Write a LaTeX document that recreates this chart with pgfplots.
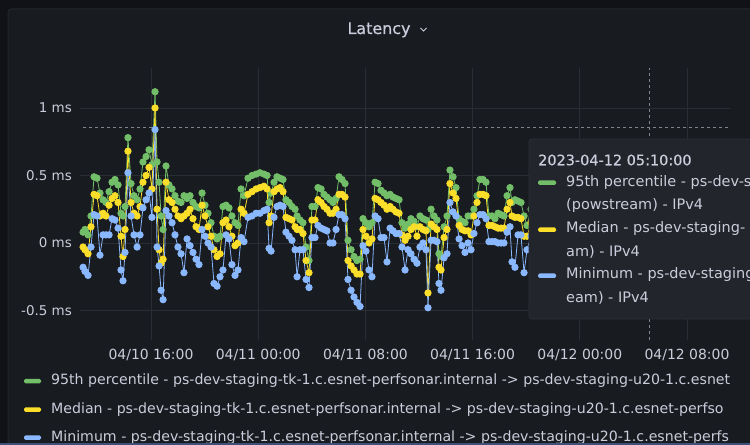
\documentclass[border=0pt]{standalone}
\usepackage{pgfplots}
\pgfplotsset{compat=1.18}
\usepackage{pgfplotstable}
\usepackage{fontspec}
\setmainfont{DejaVu Sans}
\newfontfamily\titlefont[FakeBold=0.6]{DejaVu Sans}
\newfontfamily\medfont[FakeBold=0.3]{DejaVu Sans}
\definecolor{bgout}{HTML}{111217}
\definecolor{panel}{HTML}{181B1F}
\definecolor{panelborder}{HTML}{25272C}
\definecolor{gridc}{HTML}{2A2D33}
\definecolor{txt}{HTML}{CCCCDC}
\definecolor{cg}{HTML}{73BF69}
\definecolor{cy}{HTML}{FADE2A}
\definecolor{cb}{HTML}{8AB8FF}
\definecolor{tipbg}{HTML}{22252B}
\definecolor{tipborder}{HTML}{2C2F35}
\definecolor{cross}{HTML}{80848C}
\definecolor{bline}{HTML}{3C5078}
\newcommand\ff[1]{\fontsize{#1}{#1}\selectfont}

\pgfplotstableread{
h g m b
10.93 0.08 -0.03 -0.18
11.07 0.10 -0.05 -0.21
11.30 0.06 -0.08 -0.24
11.52 0.20 0.12 -0.03
11.75 0.49 0.36 0.21
11.97 0.48 0.35 0.20
12.19 0.37 0.20 -0.09
12.42 0.32 0.22 0.06
12.64 0.30 0.20 0.06
12.87 0.38 0.28 0.06
13.09 0.45 0.33 0.18
13.31 0.47 0.35 0.17
13.54 0.43 0.30 0.11
13.76 0.22 0.05 -0.20
13.91 0.20 -0.10 -0.28
14.06 0.27 0.10 -0.07
14.28 0.78 0.68 0.52
14.51 0.44 0.30 0.20
14.73 0.35 0.22 0.06
14.96 0.32 0.20 -0.03
15.18 0.40 0.27 0.06
15.40 0.60 0.45 0.26
15.63 0.64 0.50 0.32
15.85 0.69 0.56 0.37
16.07 0.58 0.40 0.19
16.30 1.12 1.00 0.84
16.45 0.60 0.25 -0.03
16.60 0.45 -0.05 -0.17
16.75 0.20 -0.15 -0.35
16.90 0.10 -0.12 -0.42
17.12 0.57 0.45 0.24
17.34 0.43 0.32 0.20
17.57 0.40 0.30 0.15
17.79 0.35 0.25 0.06
18.01 0.31 0.20 -0.03
18.24 0.30 0.18 -0.08
18.46 0.35 0.20 -0.22
18.69 0.33 0.22 0.03
18.91 0.35 0.25 -0.02
19.13 0.30 0.18 -0.07
19.36 0.27 0.12 -0.12
19.58 0.26 0.10 -0.16
19.81 0.37 0.28 0.10
20.03 0.28 0.20 0.05
20.25 0.22 0.12 0.00
20.48 0.15 0.05 -0.03
20.70 0.05 -0.05 -0.30
20.93 0.03 -0.10 -0.32
21.15 0.05 -0.08 -0.25
21.37 0.27 0.15 -0.20
21.60 0.28 0.17 0.06
21.82 0.26 0.12 0.03
22.04 0.20 0.05 -0.16
22.27 0.15 -0.02 -0.24
22.49 0.13 0.00 -0.20
22.72 0.40 0.25 0.04
22.94 0.35 0.22 0.01
23.24 0.48 0.36 0.19
23.54 0.50 0.38 0.20
23.84 0.51 0.40 0.22
24.13 0.52 0.41 0.22
24.43 0.51 0.42 0.24
24.66 0.50 0.40 0.25
24.81 0.30 0.15 -0.04
24.96 0.37 0.20 -0.06
25.18 0.45 0.38 0.19
25.40 0.49 0.40 0.27
25.63 0.48 0.41 0.28
25.85 0.47 0.38 0.27
26.07 0.32 0.19 0.08
26.30 0.30 0.18 0.05
26.52 0.27 0.17 0.02
26.75 0.25 0.12 -0.05
26.90 0.20 0.10 -0.25
27.12 0.17 0.10 -0.05
27.34 0.15 0.07 -0.05
27.57 -0.03 -0.13 -0.27
27.79 -0.13 -0.22 -0.33
28.01 0.27 0.17 0.04
28.24 0.27 0.17 0.04
28.46 0.41 0.32 0.13
28.69 0.40 0.30 0.11
28.91 0.36 0.27 0.10
29.13 0.34 0.25 0.09
29.36 0.32 0.22 0.00
29.58 0.30 0.22 0.00
29.81 0.33 0.25 0.10
30.03 0.49 0.36 0.21
30.25 0.47 0.36 0.21
30.48 0.44 0.34 0.18
30.70 0.02 -0.13 -0.27
30.93 -0.05 -0.17 -0.35
31.15 -0.10 -0.20 -0.40
31.37 -0.13 -0.23 -0.44
31.60 -0.12 -0.23 -0.47
31.82 0.18 0.10 -0.02
32.04 0.15 0.05 -0.06
32.27 0.12 0.00 -0.20
32.49 0.15 0.03 -0.25
32.72 0.45 0.33 0.20
32.94 0.44 0.32 0.18
33.16 0.39 0.30 0.04
33.39 0.37 0.28 0.04
33.61 0.35 0.25 -0.14
33.84 0.36 0.27 0.11
34.06 0.34 0.25 0.09
34.28 0.33 0.23 0.07
34.51 0.32 0.22 0.07
34.73 0.15 0.06 -0.03
34.96 0.11 0.02 -0.20
35.18 0.14 0.05 -0.05
35.40 0.18 0.10 -0.08
35.63 0.16 0.12 -0.12
35.85 0.12 0.05 -0.15
36.07 0.20 0.12 -0.03
36.30 0.18 0.10 0.00
36.52 0.17 0.09 -0.05
36.67 0.10 -0.37 -0.48
36.90 0.25 0.14 0.02
37.12 0.20 0.12 0.02
37.34 0.17 0.10 0.01
37.49 -0.08 -0.18 -0.30
37.64 -0.10 -0.20 -0.35
37.87 0.12 0.04 -0.11
38.09 0.20 0.10 -0.08
38.31 0.54 0.44 0.30
38.54 0.49 0.37 0.23
38.76 0.41 0.33 0.20
38.99 0.18 0.13 0.03
39.21 0.16 0.10 -0.02
39.43 0.15 0.09 -0.07
39.66 0.20 0.09 0.00
39.88 0.20 0.06 -0.05
40.10 0.25 0.20 0.07
40.33 0.35 0.30 0.15
40.55 0.47 0.36 0.21
40.78 0.47 0.36 0.21
41.00 0.45 0.35 0.18
41.22 0.20 0.13 0.01
41.45 0.20 0.13 0.01
41.67 0.18 0.12 0.01
41.90 0.22 0.11 0.00
42.12 0.21 0.11 0.00
42.34 0.20 0.11 0.00
42.57 0.35 0.25 0.08
42.79 0.41 0.30 0.12
42.94 0.30 0.20 -0.14
43.16 0.32 0.19 -0.18
43.39 0.31 0.19 0.06
43.61 0.30 0.18 0.06
43.84 0.20 0.05 -0.22
44.06 0.13 0.05 -0.05
44.36 0.25 0.15 0.05
44.66 0.30 0.20 0.08
}\lat

\begin{document}
\begin{tikzpicture}[x=1bp,y=1bp]
\path[use as bounding box] (0,0) rectangle (750,445);
\clip (0,0) rectangle (750,445);
\fill[bgout] (0,0) rectangle (750,445);
\filldraw[fill=panel, draw=panelborder, line width=1bp, rounded corners=3bp] (8,-10) rectangle (762,436);
% title
\node[text=txt, inner sep=0pt, anchor=base, font=\titlefont\ff{16}] at (379,411) {Latency};
\draw[txt, line width=0.9bp] (420.5,417) -- (423.5,414) -- (426.5,417);

\begin{axis}[
  at={(80bp,105bp)}, anchor=south west,
  scale only axis, width=650bp, height=272bp,
  xmin=10.70, xmax=59.21, ymin=-0.7185, ymax=1.296,
  axis line style={draw=none}, tick style={draw=none},
  xtick={16,24,32,40,48,56},
  xticklabels={04/10 16:00,04/11 00:00,04/11 08:00,04/11 16:00,04/12 00:00,04/12 08:00},
  ytick={-0.5,0,0.5,1},
  yticklabels={-0.5 ms,0 ms,0.5 ms,1 ms},
  grid=major, major grid style={gridc, line width=0.8bp},
  xticklabel style={font=\ff{14}, text=txt, inner sep=0pt, anchor=north, yshift=-9bp},
  yticklabel style={font=\ff{13.5}, text=txt, inner sep=0pt, anchor=east, xshift=-8bp},
]
\draw[cross, dash pattern=on 3bp off 3bp, line width=0.8bp] (axis cs:10.95,0.859) -- (axis cs:59.21,0.859);
\draw[cross, dash pattern=on 3bp off 3bp, line width=0.8bp] (axis cs:53.17,-0.7185) -- (axis cs:53.17,1.296);
\addplot[cg, line width=0.8bp, mark=*, mark size=3.2bp, mark options={draw=none, fill=cg}] table[x=h, y=g] {\lat};
\addplot[cy, line width=0.8bp, mark=*, mark size=3.2bp, mark options={draw=none, fill=cy}] table[x=h, y=m] {\lat};
\addplot[cb, line width=0.8bp, mark=*, mark size=3.2bp, mark options={draw=none, fill=cb}] table[x=h, y=b] {\lat};
\end{axis}

% tooltip
\filldraw[fill=tipbg, draw=tipborder, line width=0.8bp, rounded corners=3bp] (529,126) rectangle (770,306);
\node[text=txt, inner sep=0pt, anchor=west, font=\medfont\ff{14.5}] at (538,285) {2023-04-12 05:10:00};
\fill[cg, rounded corners=1.5bp] (538,260) rectangle (556,264.5);
\fill[cy, rounded corners=1.5bp] (538,213) rectangle (556,217.5);
\fill[cb, rounded corners=1.5bp] (538,167) rectangle (556,171.5);
\begin{scope}[every node/.style={text=txt, inner sep=0pt, anchor=west, font=\ff{14.5}}]
\node at (566,262) {95th percentile - ps-dev-s};
\node at (566,239) {(powstream) - IPv4};
\node at (566,216) {Median - ps-dev-staging-};
\node at (566,193) {am) - IPv4};
\node at (566,170) {Minimum - ps-dev-staging};
\node at (566,147) {eam) - IPv4};
\end{scope}

% legend
\fill[cg, rounded corners=1.5bp] (24,61.5) rectangle (41,66);
\fill[cy, rounded corners=1.5bp] (24,33) rectangle (41,37.5);
\fill[cb, rounded corners=1.5bp] (24,5) rectangle (41,9.5);
\begin{scope}
\clip (0,0) rectangle (736,100);
\begin{scope}[every node/.style={text=txt, inner sep=0pt, anchor=west, font=\ff{14.2}}]
\node at (51,64) {95th percentile - ps-dev-staging-tk-1.c.esnet-perfsonar.internal -> ps-dev-staging-u20-1.c.esnet};
\node at (51,35) {Median - ps-dev-staging-tk-1.c.esnet-perfsonar.internal -> ps-dev-staging-u20-1.c.esnet-perfso};
\node at (51,7) {Minimum - ps-dev-staging-tk-1.c.esnet-perfsonar.internal -> ps-dev-staging-u20-1.c.esnet-perfs};
\end{scope}
\end{scope}
\draw[bline, line width=1.5bp] (0,0.75) -- (750,0.75);
\end{tikzpicture}
\end{document}
